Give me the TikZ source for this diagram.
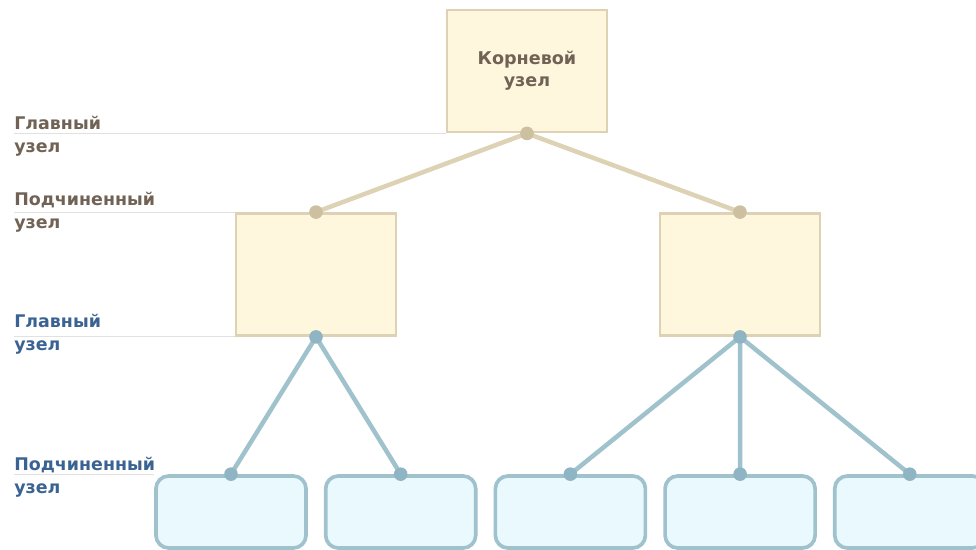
\documentclass[tikz,border=0pt]{standalone}
\usepackage{fontspec}
\setmainfont{DejaVu Sans}
\definecolor{TreeCream}{RGB}{255, 246, 222}
\definecolor{TreeTan}{RGB}{222, 210, 180}
\definecolor{TreeTanDot}{RGB}{205, 192, 160}
\definecolor{TreeBrown}{RGB}{112, 98, 84}
\definecolor{TreeSky}{RGB}{234, 249, 253}
\definecolor{TreeBlue}{RGB}{160, 194, 205}
\definecolor{TreeBlueDot}{RGB}{143, 181, 196}
\definecolor{TreeNavy}{RGB}{58, 98, 146}
\definecolor{TreeRule}{RGB}{225, 225, 225}
\usetikzlibrary{positioning}

\begin{document}
\begin{tikzpicture}[
  x=0.025cm, y=-0.025cm,
  node distance=0.4cm and 0.4cm,
  mainbox/.style={
    rectangle, draw=TreeTan, fill=TreeCream,
    minimum height=3.05cm, minimum width=4cm,
    line width=2pt, align=center,
    font=\bfseries\fontsize{12.5}{15.6}\selectfont, text=TreeBrown
  },
  leafbox/.style={
    rectangle, rounded corners=9pt, draw=TreeBlue, fill=TreeSky,
    minimum height=1.8cm, minimum width=3.75cm,
    line width=2.6pt
  },
  lvl/.style={
    anchor=north west, inner sep=0pt, align=left,
    font=\bfseries\fontsize{12.4}{16}\selectfont
  },
  rule/.style={draw=TreeRule, line width=0.6pt},
  tanlink/.style={draw=TreeTan, line width=3.2pt},
  bluelink/.style={draw=TreeBlue, line width=3.2pt},
  tandot/.style={circle, fill=TreeTanDot, inner sep=0pt, minimum size=0.34cm},
  bluedot/.style={circle, fill=TreeBlueDot, inner sep=0pt, minimum size=0.34cm},
]
\useasboundingbox (0,0) rectangle (976,550);

% level labels
\node[lvl, text=TreeBrown] (lblA) at (14,116) {Главный\\узел};
\node[lvl, text=TreeBrown] (lblB) at (14,192) {Подчиненный\\узел};
\node[lvl, text=TreeNavy] (lblC) at (14,314) {Главный\\узел};
\node[lvl, text=TreeNavy] (lblD) at (14,457) {Подчиненный\\узел};

% boxes
\node[mainbox] (root) at (527,71) {Корневой\\узел};
\node[mainbox] (midL) at (316,274.5) {};
\node[mainbox] (midR) at (740,274.5) {};

\node[leafbox] (leafA) at (231,512) {};
\node[leafbox, right=of leafA] (leafB) {};
\node[leafbox, right=of leafB] (leafC) {};
\node[leafbox, right=of leafC] (leafD) {};
\node[leafbox, right=of leafD] (leafE) {};

% level rules
\draw[rule] (lblA.west |- root.south west) -- (root.south west);
\draw[rule] (lblB.west |- midL.north west) -- (midL.north west);
\draw[rule] (lblC.west |- midL.south west) -- (midL.south west);
\draw[rule] (lblD.west |- leafA.north west) -- (leafA.north west);

% links
\draw[tanlink] (root.south) -- (midL.north);
\draw[tanlink] (root.south) -- (midR.north);
\draw[bluelink] (midL.south) -- (leafA.north);
\draw[bluelink] (midL.south) -- (leafB.north);
\draw[bluelink] (midR.south) -- (leafC.north);
\draw[bluelink] (midR.south) -- (leafD.north);
\draw[bluelink] (midR.south) -- (leafE.north);

% joints
\node[tandot] (jRoot) at (root.south) {};
\node[tandot] (jMidL) at (midL.north) {};
\node[tandot] (jMidR) at (midR.north) {};
\node[bluedot] (kMidL) at (midL.south) {};
\node[bluedot] (kMidR) at (midR.south) {};
\foreach \leaf in {leafA, leafB, leafC, leafD, leafE}
  \node[bluedot] (k\leaf) at (\leaf.north) {};
\end{tikzpicture}
\end{document}
